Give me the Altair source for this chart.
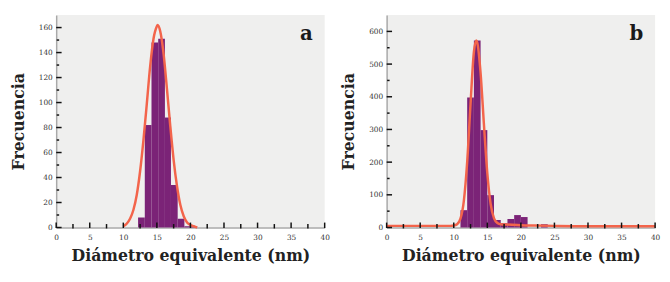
import altair as alt
import pandas as pd

# ---------------- data ----------------
# Panel a histogram (bin edges in nm, counts)
A_BIN_START = [12.2, 13.2, 14.2, 15.2, 16.2, 17.1, 18.1, 19.1, 20.1]
A_BIN_END   = [13.2, 14.2, 15.2, 16.2, 17.1, 18.1, 19.1, 20.1, 21.0]
A_COUNTS    = [8, 82, 148, 151, 88, 34, 7, 1, 1]
# Panel a fitted curve
A_CURVE_X = [10, 10.5, 11, 11.5, 12, 12.5, 13, 13.5, 14, 14.5, 15, 15.1, 15.5,
             16, 16.5, 17, 17.5, 18, 18.5, 19, 19.5, 20, 20.5, 21]
A_CURVE_Y = [1, 3, 7, 14, 26, 45, 70, 99, 129, 151, 161, 162, 157,
             139, 111, 81, 54, 33, 18, 9, 4, 2, 1, 0]

# Panel b histogram
B_BIN_START = [11, 12, 13, 14, 15, 16, 17, 18, 19, 20, 23]
B_BIN_END   = [12, 13, 14, 15, 16, 17, 18, 19, 20, 21, 24]
B_COUNTS    = [53, 398, 572, 298, 99, 23, 13, 26, 38, 32, 10]
# Panel b fitted curve
B_CURVE_X = [0, 5, 9, 9.5, 10, 10.5, 11, 11.5, 12, 12.5, 13, 13.35, 13.5,
             14, 14.5, 15, 15.5, 16, 16.5, 17, 18, 20, 22, 25, 30, 35, 40]
B_CURVE_Y = [5, 5, 5, 5, 6, 10, 27, 81, 200, 378, 537, 572, 566,
             472, 314, 166, 72, 28, 14, 10, 9, 7, 6, 5, 4, 4, 4]

X_LABELS = [0, 5, 10, 15, 20, 25, 30, 35, 40]
X_MINOR = [2.5, 7.5, 12.5, 17.5, 22.5, 27.5, 32.5, 37.5]
A_Y_LABELS = [0, 20, 40, 60, 80, 100, 120, 140, 160]
A_Y_MINOR = [10, 30, 50, 70, 90, 110, 130, 150]
B_Y_LABELS = [0, 100, 200, 300, 400, 500, 600]
B_Y_MINOR = [50, 150, 250, 350, 450, 550]

X_TITLE = "Diámetro equivalente (nm)"
Y_TITLE = "Frecuencia"

# ---------------- style ----------------
W, H = 273, 216
BAR_COLOR = "#7b2377"
LINE_COLOR = "#f3644b"
TICK_COLOR = "#111111"
FONT = "DejaVu Serif"


def panel(bs, be, cnt, cx, cy, ymax, ylab, yminor, letter):
    bars_df = pd.DataFrame({"x0": bs, "x1": be, "n": cnt})
    curve_df = pd.DataFrame({"x0": cx, "n": cy})
    xs = alt.Scale(domain=[0, 40], nice=False, zero=False)
    ys = alt.Scale(domain=[0, ymax], nice=False)
    xaxis = alt.Axis(values=X_LABELS, ticks=False, grid=False, title=X_TITLE,
                     labelPadding=6, titlePadding=7, labelFlush=False)
    yaxis = alt.Axis(values=ylab, ticks=False, grid=False, title=Y_TITLE,
                     labelPadding=4, titlePadding=12)

    bars = alt.Chart(bars_df).mark_rect(color=BAR_COLOR).encode(
        x=alt.X("x0:Q", scale=xs, axis=xaxis),
        x2="x1:Q",
        y=alt.Y("n:Q", scale=ys, axis=yaxis),
        y2=alt.datum(0),
    )
    curve = alt.Chart(curve_df).mark_line(
        color=LINE_COLOR, strokeWidth=2.5, interpolate="monotone"
    ).encode(
        x=alt.X("x0:Q", scale=xs, axis=xaxis),
        y=alt.Y("n:Q", scale=ys, axis=yaxis),
    )
    xmaj = alt.Chart(pd.DataFrame({"x0": X_LABELS})).mark_rule(
        color=TICK_COLOR, strokeWidth=1.5
    ).encode(
        x=alt.X("x0:Q", scale=xs, axis=xaxis),
        y=alt.value(H + 0.5), y2=alt.value(H - 5),
    )
    xmin = alt.Chart(pd.DataFrame({"x0": X_MINOR})).mark_rule(
        color=TICK_COLOR, strokeWidth=1.5
    ).encode(
        x=alt.X("x0:Q", scale=xs, axis=xaxis),
        y=alt.value(H + 1), y2=alt.value(H - 3.5),
    )
    ymaj = alt.Chart(pd.DataFrame({"n": ylab})).mark_rule(
        color=TICK_COLOR, strokeWidth=1.5
    ).encode(
        y=alt.Y("n:Q", scale=ys, axis=yaxis),
        x=alt.value(0), x2=alt.value(5.5),
    )
    ymin = alt.Chart(pd.DataFrame({"n": yminor})).mark_rule(
        color=TICK_COLOR, strokeWidth=1.5
    ).encode(
        y=alt.Y("n:Q", scale=ys, axis=yaxis),
        x=alt.value(0.5), x2=alt.value(3),
    )
    lab = alt.Chart(pd.DataFrame({"t": [letter]})).mark_text(
        font=FONT, fontSize=20, fontWeight="bold", color="#1a1a1a",
        align="right", baseline="alphabetic"
    ).encode(text="t:N", x=alt.value(W - 12), y=alt.value(25))

    return alt.layer(bars, curve, xmaj, xmin, ymaj, ymin, lab).properties(
        width=W, height=H
    )


pa = panel(A_BIN_START, A_BIN_END, A_COUNTS, A_CURVE_X, A_CURVE_Y, 170,
           A_Y_LABELS, A_Y_MINOR, "a")
pb = panel(B_BIN_START, B_BIN_END, B_COUNTS, B_CURVE_X, B_CURVE_Y, 650,
           B_Y_LABELS, B_Y_MINOR, "b")

chart = alt.hconcat(pa, pb, spacing=11).properties(
    padding={"left": 2, "top": 5, "right": 2, "bottom": 2}
).configure_view(
    fill="#efefee", stroke=None
).configure_axis(
    domainColor="#a9a9a9", domainWidth=1.5,
    labelFont=FONT, labelFontSize=7.5, labelColor="#333333",
    titleFont=FONT, titleFontSize=16, titleFontWeight="bold",
    titleColor="#222222",
)

chart.save("out.html", embed_options={"renderer": "svg", "actions": False})
